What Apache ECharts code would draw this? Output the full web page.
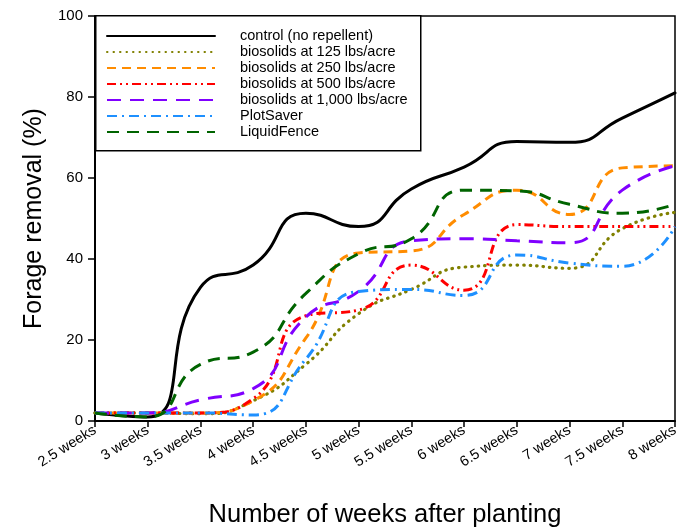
<!DOCTYPE html>
<html>
<head>
<meta charset="utf-8">
<script src="https://cdn.jsdelivr.net/npm/echarts@6/dist/echarts.min.js"></script>
<style>html,body{margin:0;padding:0;background:#fff;}#chart{width:688px;height:529px;}</style>
</head>
<body>
<div id="chart"></div>
<script>
var categories = ['2.5 weeks','3 weeks','3.5 weeks','4 weeks','4.5 weeks','5 weeks','5.5 weeks','6 weeks','6.5 weeks','7 weeks','7.5 weeks','8 weeks'];
var yTicks = [0, 20, 40, 60, 80, 100];
var control   = [2, 1, 33, 38.5, 51.3, 48, 57.3, 62.7, 69, 68.8, 74.8, 81];
var bio125    = [2, 2, 1.8, 5, 14, 26.5, 32.5, 38, 38.5, 37.7, 47.5, 51.5];
var bio250    = [2, 2, 2, 5, 20.5, 41.5, 42, 51, 57, 51, 62.5, 63];
var bio500    = [2, 2, 2, 5.5, 26, 27.4, 38.5, 32.3, 48.5, 48, 48, 48];
var bio1000   = [2, 2, 5.2, 8, 25.7, 32, 44.5, 45, 44.5, 44, 57, 63];
var plotSaver = [2, 2, 2, 1.5, 15.3, 32, 32.5, 31, 41, 39, 38.2, 48];
var liquidFence = [2, 1, 14, 17, 31.5, 41.3, 45, 57, 56.8, 53.5, 51.3, 53.5];
var names = ['control (no repellent)','biosolids at 125 lbs/acre','biosolids at 250 lbs/acre','biosolids at 500 lbs/acre','biosolids at 1,000 lbs/acre','PlotSaver','LiquidFence'];

var FONT = '"Liberation Sans", Arial, sans-serif';
function mk(name, data, color, width, type, cap) {
  return {
    name: name, type: 'line', data: data, smooth: 0.55, symbol: 'none',
    lineStyle: { color: color, width: width, type: type, cap: cap || 'butt' },
    itemStyle: { color: color }
  };
}
var chart = echarts.init(document.getElementById('chart'), null, { renderer: 'canvas' });
chart.setOption({
  animation: false,
  backgroundColor: '#fff',
  grid: { left: 95, right: 13, top: 16, bottom: 108, show: true, borderColor: '#000', borderWidth: 1.5,
          backgroundColor: 'transparent', containLabel: false, outerBoundsMode: 'none' },
  graphic: [{
    type: 'rect', z: 0, left: 95, top: 15,
    shape: { width: 325, height: 135 },
    style: { fill: '#fff', stroke: '#000', lineWidth: 1.5 }
  }],
  legend: {
    orient: 'vertical', left: 106, top: 28, itemWidth: 108, itemHeight: 14, itemGap: 0,
    padding: 0, z: 10,
    itemStyle: { opacity: 0 },
    textStyle: { fontFamily: FONT, fontSize: 14.5, color: '#000', lineHeight: 16, padding: [0, 0, 0, 20] },
    data: names
  },
  xAxis: {
    type: 'category', data: categories, boundaryGap: false,
    axisLine: { lineStyle: { color: '#000', width: 2 } },
    axisTick: { show: true, inside: false, length: 6, alignWithLabel: true, lineStyle: { color: '#000', width: 1.5 } },
    axisLabel: { rotate: 32, margin: 8, fontFamily: FONT, fontSize: 14.5, color: '#000', interval: 0 },
    splitLine: { show: false },
    name: 'Number of weeks after planting', nameLocation: 'middle', nameGap: 81,
    nameTextStyle: { fontFamily: FONT, fontSize: 25.5, color: '#000' }
  },
  yAxis: {
    type: 'value', min: 0, max: 100, interval: 20,
    axisLine: { show: true, lineStyle: { color: '#000', width: 2 } },
    axisTick: { show: true, inside: false, length: 7, lineStyle: { color: '#000', width: 1.5 } },
    axisLabel: { margin: 12, fontFamily: FONT, fontSize: 15, color: '#000',
      formatter: function (v) { return yTicks.indexOf(v) >= 0 ? String(v) : ''; } },
    splitLine: { show: false },
    name: 'Forage removal (%)', nameLocation: 'middle', nameGap: 48, nameRotate: 90,
    nameTextStyle: { fontFamily: FONT, fontSize: 25, color: '#000' }
  },
  series: [
    mk(names[0], control, '#000000', 3, 'solid', 'round'),
    mk(names[1], bio125, '#808000', 3.2, [0.5, 6], 'round'),
    mk(names[2], bio250, '#FF8C00', 3, [9, 6]),
    mk(names[3], bio500, '#FF0000', 3, [9, 4, 2, 4, 2, 4]),
    mk(names[4], bio1000, '#8000FF', 3, [14, 9]),
    mk(names[5], plotSaver, '#1E90FF', 3, [10, 5, 2, 5]),
    mk(names[6], liquidFence, '#006400', 3, [12, 8])
  ]
});
</script>
</body>
</html>
